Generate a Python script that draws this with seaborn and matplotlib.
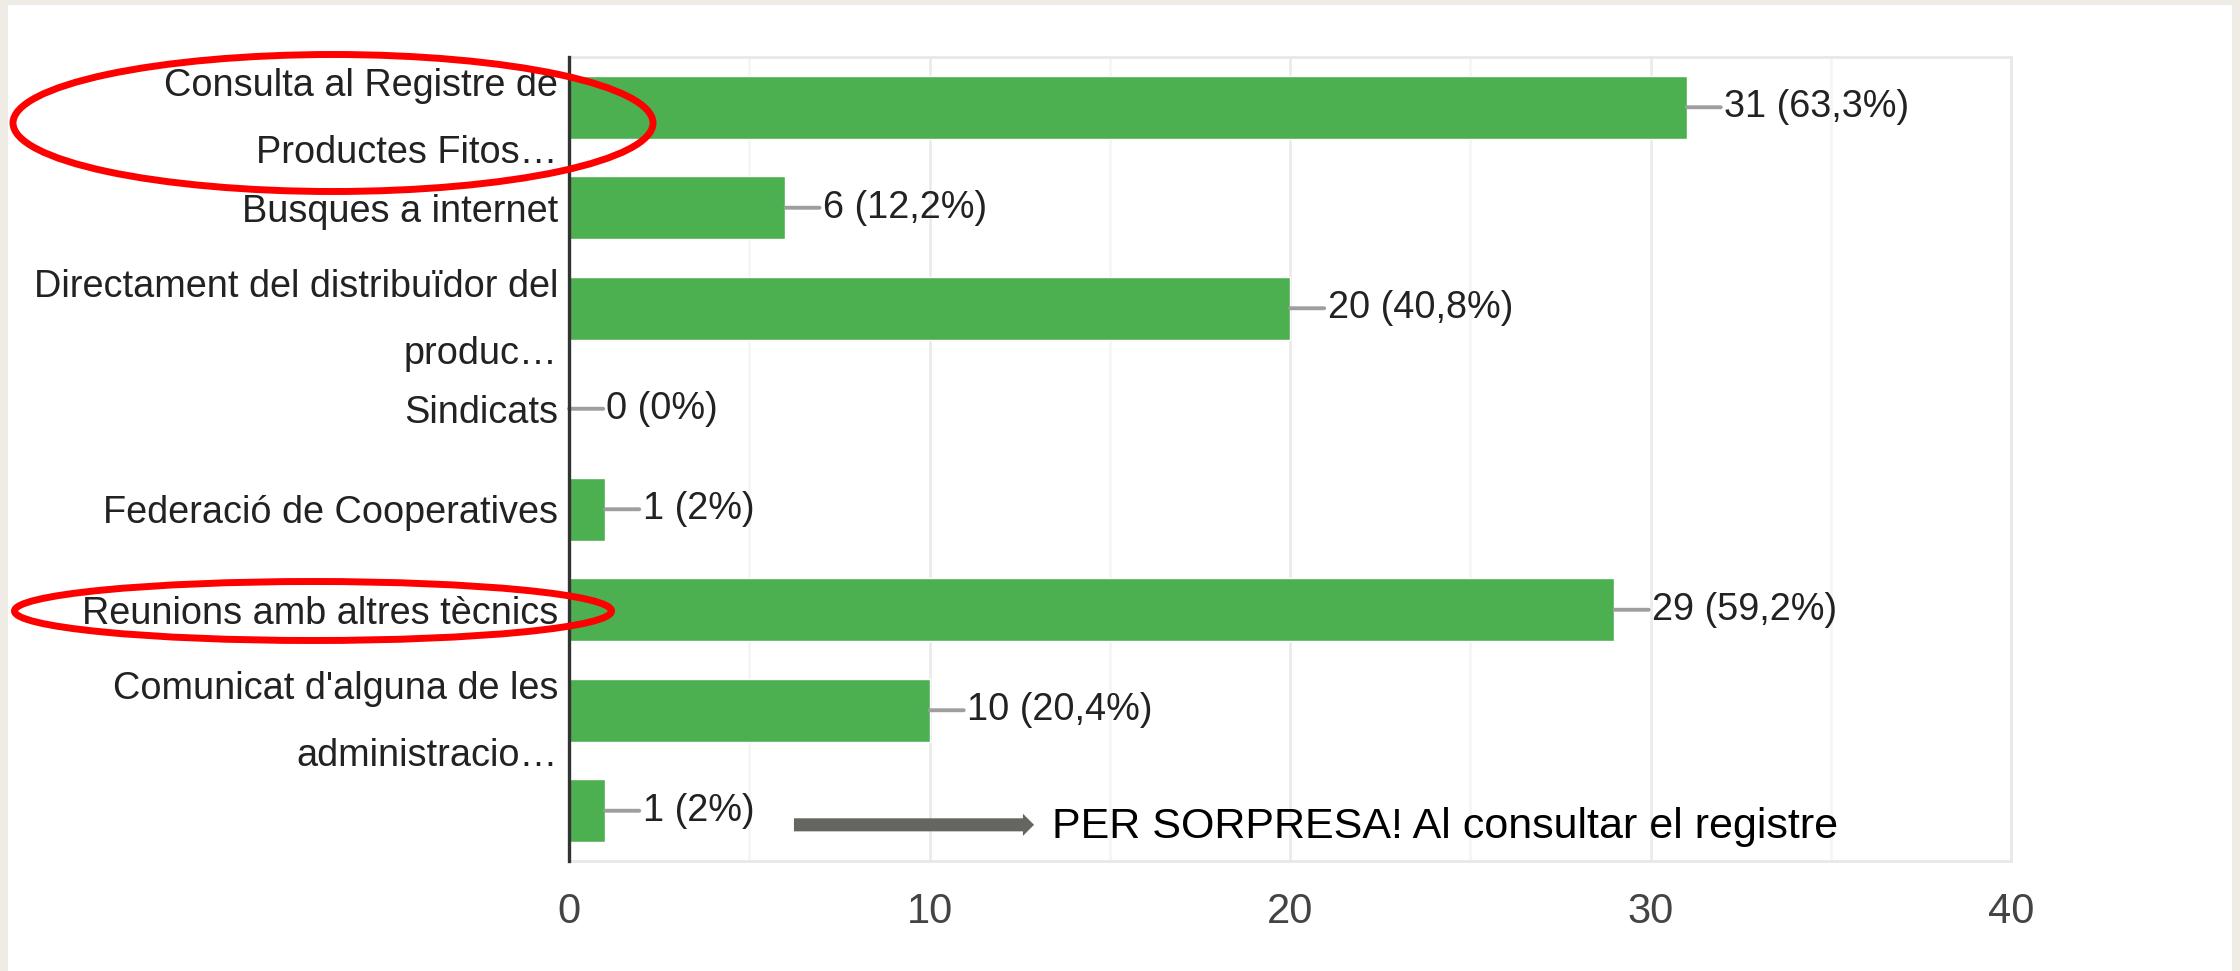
import pandas as pd
import matplotlib
matplotlib.use('Agg')
import matplotlib.pyplot as plt
import matplotlib.transforms as mtransforms
from matplotlib.patches import Ellipse, Rectangle
import seaborn as sns


# Data
categories = ["Consulta al Registre de\nProductes Fitos…",
              "Busques a internet",
              "Directament del distribuïdor del\nproduc…",
              "Sindicats",
              "Federació de Cooperatives",
              "Reunions amb altres tècnics",
              "Comunicat d'alguna de les\nadministracio…",
              ""]
counts = [31, 6, 20, 0, 1, 29, 10, 1]
percents = ["63,3%", "12,2%", "40,8%", "0%", "2%", "59,2%", "20,4%", "2%"]
x_ticks = [0, 10, 20, 30, 40]
x_minor = [5, 15, 25, 35]
note = "PER SORPRESA! Al consultar el registre"

df = pd.DataFrame({'categoria': categories, 'respostes': counts})

sns.set_style('white')
plt.rcParams['font.family'] = ['Liberation Sans', 'DejaVu Sans']

W, H = 2240, 971
fig = plt.figure(figsize=(W / 100, H / 100), dpi=100, facecolor='#efece5')
# white slide panel
fig.patches.append(Rectangle((8 / W, 0), (2232 - 8) / W, 1 - 5 / H,
                             transform=fig.transFigure, facecolor='white',
                             edgecolor='none', zorder=-10))

ax = fig.add_axes([569 / W, 1 - 861 / H, (2011 - 569) / W, (861 - 57) / H])
sns.barplot(data=df, x='respostes', y='categoria', orient='h', color='#4caf50',
            width=0.63, saturation=1, ax=ax)

ax.set_xlim(0, 40)
ax.set_xticks(x_ticks)
ax.set_xticks(x_minor, minor=True)
ax.grid(axis='x', which='major', color='#ebebeb', lw=2)
ax.grid(axis='x', which='minor', color='#f5f5f5', lw=2)
ax.set_axisbelow(True)
ax.set_xlabel('')
ax.set_ylabel('')

for side in ['top', 'right', 'bottom']:
    ax.spines[side].set_color('#e8e8e8')
    ax.spines[side].set_linewidth(2)
ax.spines['left'].set_color('#333333')
ax.spines['left'].set_linewidth(2.4)
ax.spines['left'].set_zorder(5)

ax.tick_params(axis='x', which='both', length=0, pad=22, labelsize=30, labelcolor='#444444')
ax.tick_params(axis='y', length=0, pad=8, labelsize=27.3, labelcolor='#222222')
lift = mtransforms.ScaledTranslation(0, 7 / 100, fig.dpi_scale_trans)
for t in ax.get_yticklabels():
    t.set_linespacing(2.1)
    if '\n' in t.get_text():
        t.set_transform(t.get_transform() + lift)

# value labels with grey leader line
for i, (v, p) in enumerate(zip(counts, percents)):
    ax.annotate(f"{v} ({p})", xy=(v, i), xytext=(27, 0), textcoords='offset points',
                ha='left', va='center', fontsize=27.3, color='#222222',
                arrowprops=dict(arrowstyle='-', color='#9e9e9e', lw=2.8,
                                shrinkA=0, shrinkB=0, relpos=(0, 0.5)))

# arrow + note on the last row
ax.annotate('', xy=(12.9, 7.14), xytext=(6.24, 7.14),
            arrowprops=dict(arrowstyle='simple,head_length=0.4,head_width=0.8,tail_width=0.47',
                            mutation_scale=20, color='#666660', lw=0,
                            shrinkA=0, shrinkB=0))
ax.text(13.4, 7.16, note, ha='left', va='center', fontsize=31, color='black', clip_on=False)

# red highlight ellipses
fig.add_artist(Ellipse((333 / W, 1 - 123 / H), 640 / W, 137 / H, transform=fig.transFigure,
                       fill=False, edgecolor='#ff0000', lw=5, zorder=20))
fig.add_artist(Ellipse((313 / W, 1 - 611 / H), 597 / W, 59 / H, transform=fig.transFigure,
                       fill=False, edgecolor='#ff0000', lw=5, zorder=20))

fig.savefig('out.png', dpi=100, facecolor=fig.get_facecolor())
